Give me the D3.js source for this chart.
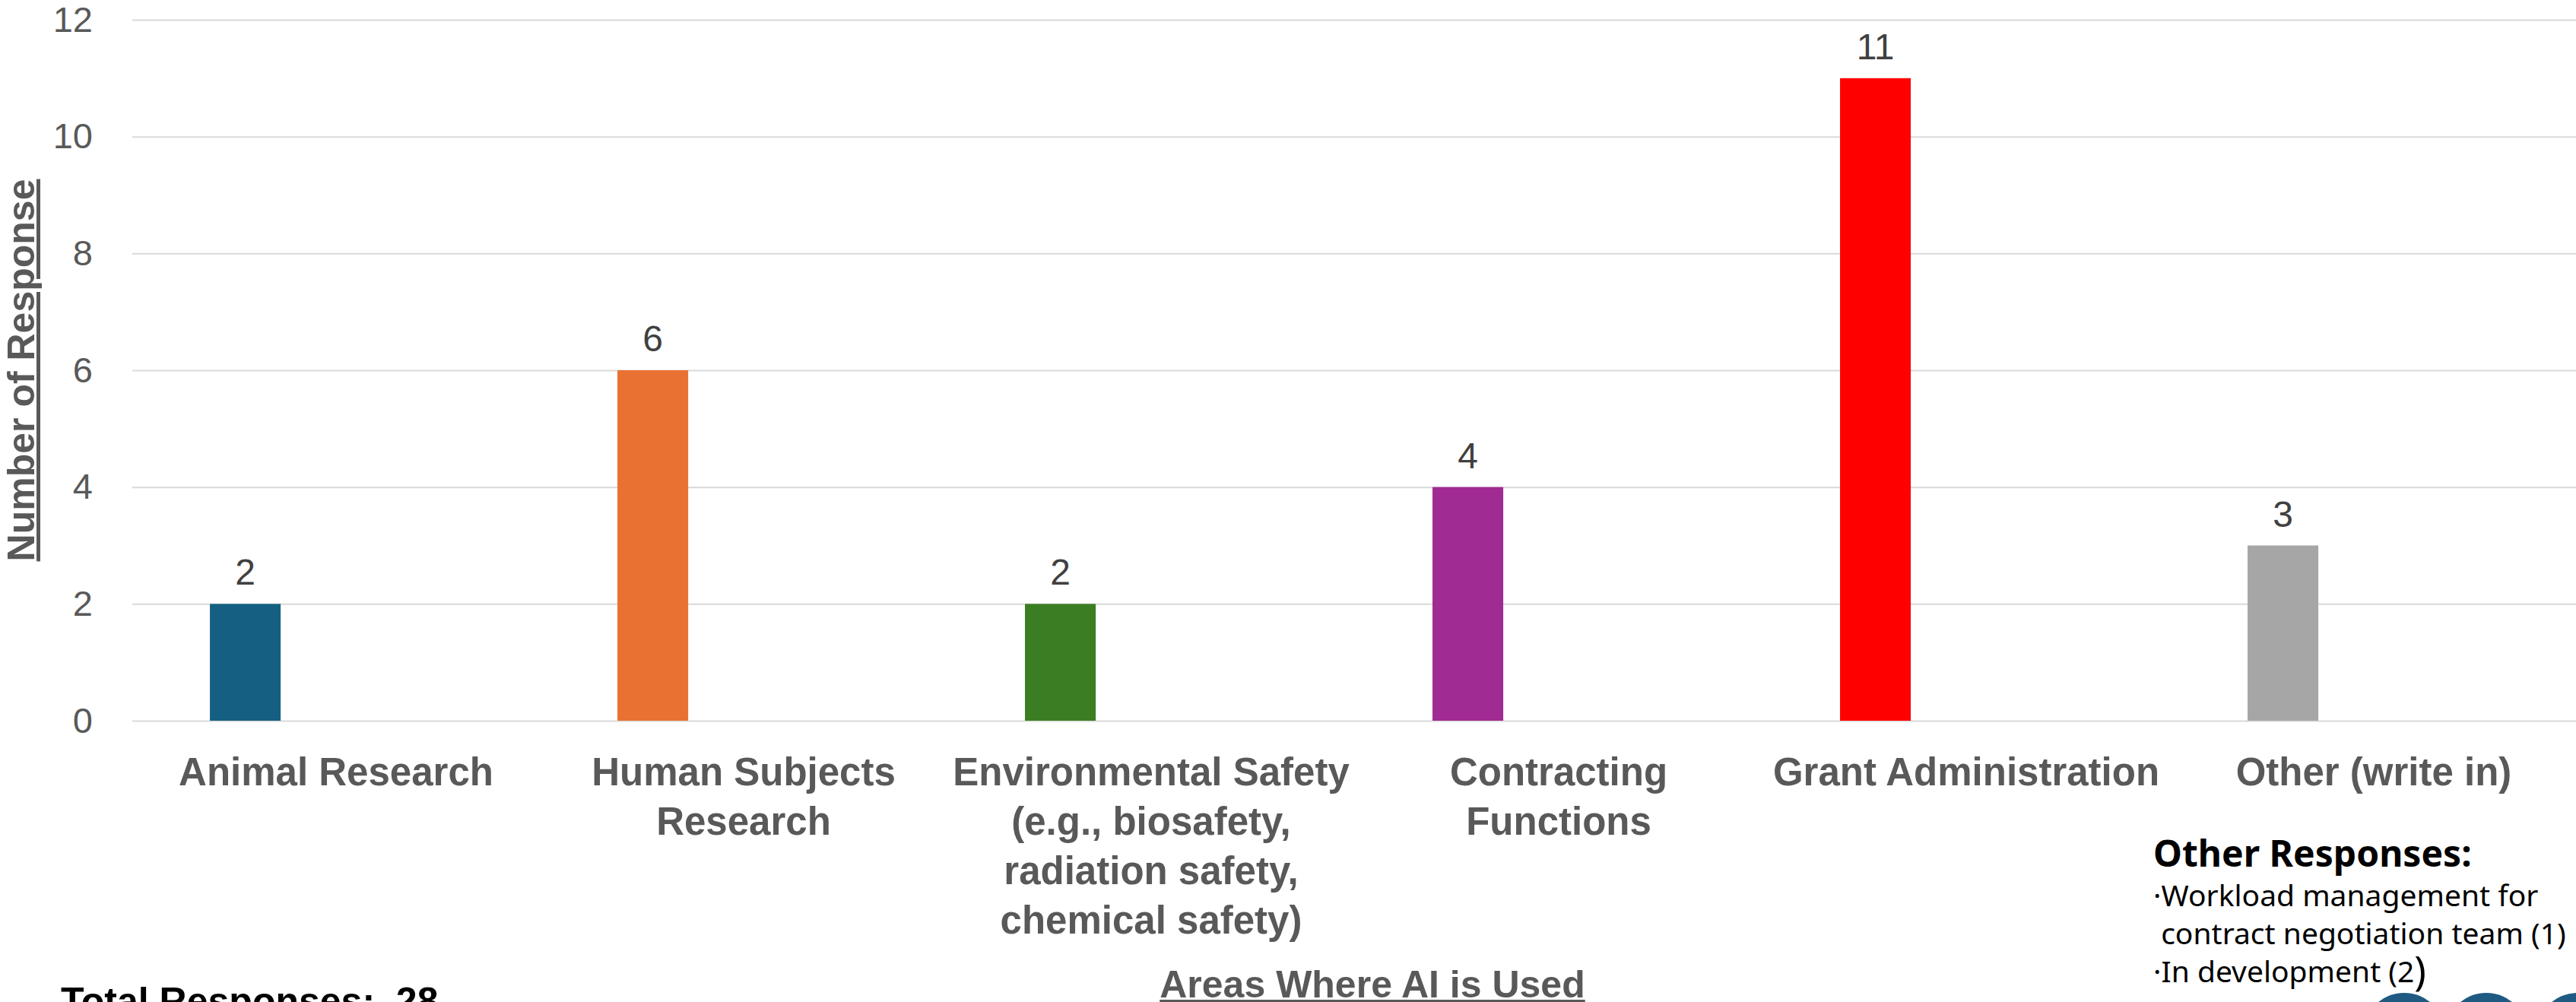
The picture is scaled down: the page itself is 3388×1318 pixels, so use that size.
<!DOCTYPE html>
<html>
<head>
<meta charset="utf-8">
<script src="https://cdn.jsdelivr.net/npm/d3@7"></script>
<style>
  html, body { margin: 0; padding: 0; background: #fff; overflow: hidden; }
  svg { display: block; }
</style>
</head>
<body>
<svg id="chart"></svg>
<script>
// Survey results: areas where AI is used
const categories = [
  "Animal Research",
  "Human Subjects\nResearch",
  "Environmental Safety\n(e.g., biosafety,\nradiation safety,\nchemical safety)",
  "Contracting\nFunctions",
  "Grant Administration",
  "Other (write in)"
];
const values = [2, 6, 2, 4, 11, 3];
const barColors = ["#156082", "#E97132", "#3B7D23", "#A02B93", "#FF0000", "#A6A6A6"];
const yTicks = [0, 2, 4, 6, 8, 10, 12];
const yTitle = "Number of Response";
const xTitle = "Areas Where AI is Used";
const otherTitle = "Other Responses:";
const otherNotes = ["\u00B7Workload management for", " contract negotiation team (1)", "\u00B7In development (2)"];

const W = 3388, H = 1318;
const margin = { left: 174, top: 26, bottom: 948, right: 3390 };
const axisColor = "#595959";
const font = "'Liberation Sans', Arial, sans-serif";

const svg = d3.select("#chart").attr("width", W).attr("height", H);
svg.append("rect").attr("width", W).attr("height", H).attr("fill", "#fff");

const x = d3.scaleBand().domain(categories).range([margin.left, margin.right]).padding(0);
const y = d3.scaleLinear().domain([0, 12]).range([margin.bottom, margin.top]);

// bar sits left of the category centre, as in a clustered column layout
const barFrac = 0.1736, offsetFrac = -0.2228;
const bw = x.bandwidth();
const barW = bw * barFrac;
const barCenter = c => x(c) + bw / 2 + bw * offsetFrac;

// gridlines + y tick labels
const yAxis = svg.append("g")
  .attr("transform", `translate(${margin.left},0)`)
  .call(d3.axisLeft(y).tickValues(yTicks).tickSize(-(W - margin.left)).tickPadding(52));
yAxis.select(".domain").remove();
yAxis.selectAll(".tick line").attr("stroke", "#D9D9D9").attr("stroke-width", 2);
yAxis.selectAll(".tick text")
  .attr("fill", axisColor)
  .style("font-family", font)
  .style("font-size", "47px");

// bars
svg.append("g").selectAll("rect")
  .data(categories)
  .join("rect")
  .attr("x", c => barCenter(c) - barW / 2)
  .attr("width", barW)
  .attr("y", (c, i) => y(values[i]))
  .attr("height", (c, i) => y(0) - y(values[i]))
  .attr("fill", (c, i) => barColors[i]);

// value labels
svg.append("g").selectAll("text")
  .data(categories)
  .join("text")
  .attr("x", c => barCenter(c))
  .attr("y", (c, i) => y(values[i]) - 25)
  .attr("text-anchor", "middle")
  .attr("fill", "#404040")
  .style("font-family", font)
  .style("font-size", "48px")
  .text((c, i) => values[i]);

// category labels
const xAxis = svg.append("g")
  .attr("transform", `translate(0,${margin.bottom})`)
  .call(d3.axisBottom(x).tickSize(0).tickFormat(""));
xAxis.select(".domain").remove();
xAxis.selectAll(".tick text").remove();
xAxis.selectAll(".tick").append("text")
  .attr("text-anchor", "middle")
  .attr("fill", axisColor)
  .style("font-family", font)
  .style("font-size", "51px")
  .style("font-weight", "bold")
  .each(function (c) {
    const t = d3.select(this);
    c.split("\n").forEach((line, k) => {
      t.append("tspan").attr("x", 0).attr("y", 85 + k * 65).text(line);
    });
  });

// axis titles
svg.append("text")
  .attr("transform", `translate(45,487) rotate(-90)`)
  .attr("text-anchor", "middle")
  .attr("fill", axisColor)
  .style("font-family", font)
  .style("font-size", "50px")
  .style("font-weight", "bold")
  .style("text-decoration", "underline")
  .text(yTitle);

svg.append("text")
  .attr("x", 1805).attr("y", 1312)
  .attr("text-anchor", "middle")
  .attr("fill", axisColor)
  .style("font-family", font)
  .style("font-size", "50px")
  .style("font-weight", "bold")
  .style("text-decoration", "underline")
  .text(xTitle);

// total
svg.append("text")
  .attr("x", 80).attr("y", 1334)
  .attr("fill", "#000")
  .style("font-family", font)
  .style("font-size", "50px")
  .style("font-weight", "bold")
  .style("white-space", "pre")
  .text(`Total Responses:  ${d3.sum(values)}`);

// write-in notes
const notes = svg.append("g").attr("transform", "translate(2832,0)")
  .style("font-family", "'Noto Sans', 'Open Sans', sans-serif")
  .attr("fill", "#000");
notes.append("text").attr("y", 1140)
  .style("font-size", "48px").style("font-weight", "bold")
  .text(otherTitle);
const noteY = [1192, 1242, 1292];
otherNotes.forEach((n, i) => {
  const t = notes.append("text").attr("y", noteY[i])
    .style("font-size", "39px")
    .style("white-space", "pre");
  if (i === otherNotes.length - 1 && n.endsWith(")")) {
    t.append("tspan").text(n.slice(0, -1));
    t.append("tspan").style("font-size", "52px").attr("dy", 4).text(")");
  } else {
    t.text(n);
  }
});

// decorative circles in the corner
const deco = svg.append("g").attr("fill", "#1F5A82");
[3162, 3270, 3390].forEach(cx => deco.append("circle").attr("cx", cx).attr("cy", 1360).attr("r", 54));
</script>
</body>
</html>
